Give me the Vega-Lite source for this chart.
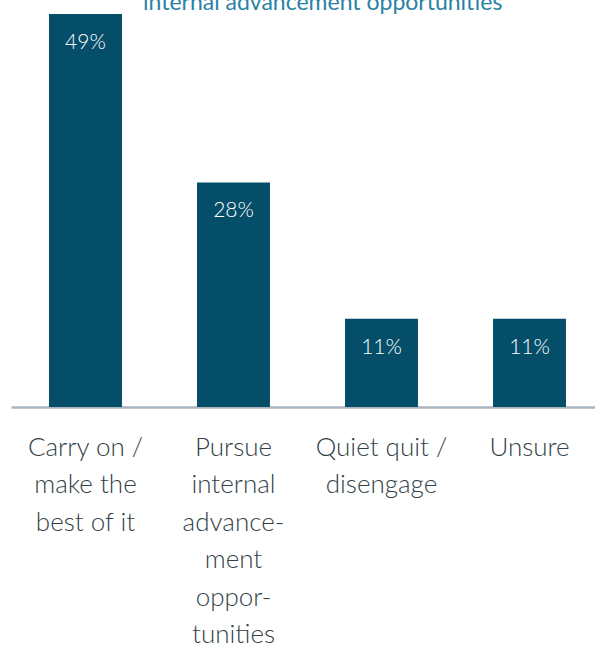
{
  "$schema": "https://vega.github.io/schema/vega-lite/v6.json",
  "autosize": "none",
  "padding": {"left": 11, "top": 6, "right": 0, "bottom": 239},
  "width": 584,
  "height": 401,
  "background": "white",
  "config": {"view": {"stroke": null}},
  "title": {
    "text": "internal advancement opportunities",
    "anchor": "start",
    "dx": 132,
    "offset": -27,
    "baseline": "alphabetic",
    "font": "Lato",
    "fontSize": 23,
    "fontWeight": 400,
    "color": "#2a82a5"
  },
  "data": {
    "values": [
      {"category": "Carry on /|make the|best of it", "pct": 0.49},
      {"category": "Pursue|internal|advance-|ment|oppor-|tunities", "pct": 0.28},
      {"category": "Quiet quit /|disengage", "pct": 0.11},
      {"category": "Unsure", "pct": 0.11}
    ]
  },
  "encoding": {
    "x": {
      "field": "category",
      "type": "nominal",
      "sort": null,
      "scale": {"paddingInner": 0.507, "paddingOuter": 0.2264, "align": 0.567},
      "axis": {
        "title": null,
        "labelAngle": 0,
        "labelExpr": "split(datum.value, '|')",
        "labelFont": "Lato",
        "labelFontWeight": 300,
        "labelFontSize": 26,
        "labelColor": "#333f48",
        "labelLineHeight": 37.5,
        "labelBaseline": "top",
        "labelPadding": 27,
        "labelLimit": 300,
        "ticks": false,
        "domainColor": "#a9b5bf",
        "domainWidth": 2.5
      }
    },
    "y": {
      "field": "pct",
      "type": "quantitative",
      "scale": {"domain": [0, 0.5], "nice": false},
      "axis": null
    }
  },
  "layer": [
    {"mark": {"type": "bar", "color": "#054e69"}},
    {
      "mark": {
        "type": "text",
        "color": "white",
        "font": "Lato",
        "fontWeight": 300,
        "fontSize": 21,
        "baseline": "middle",
        "dy": 29
      },
      "encoding": {"text": {"field": "pct", "type": "quantitative", "format": ".0%"}}
    }
  ]
}
